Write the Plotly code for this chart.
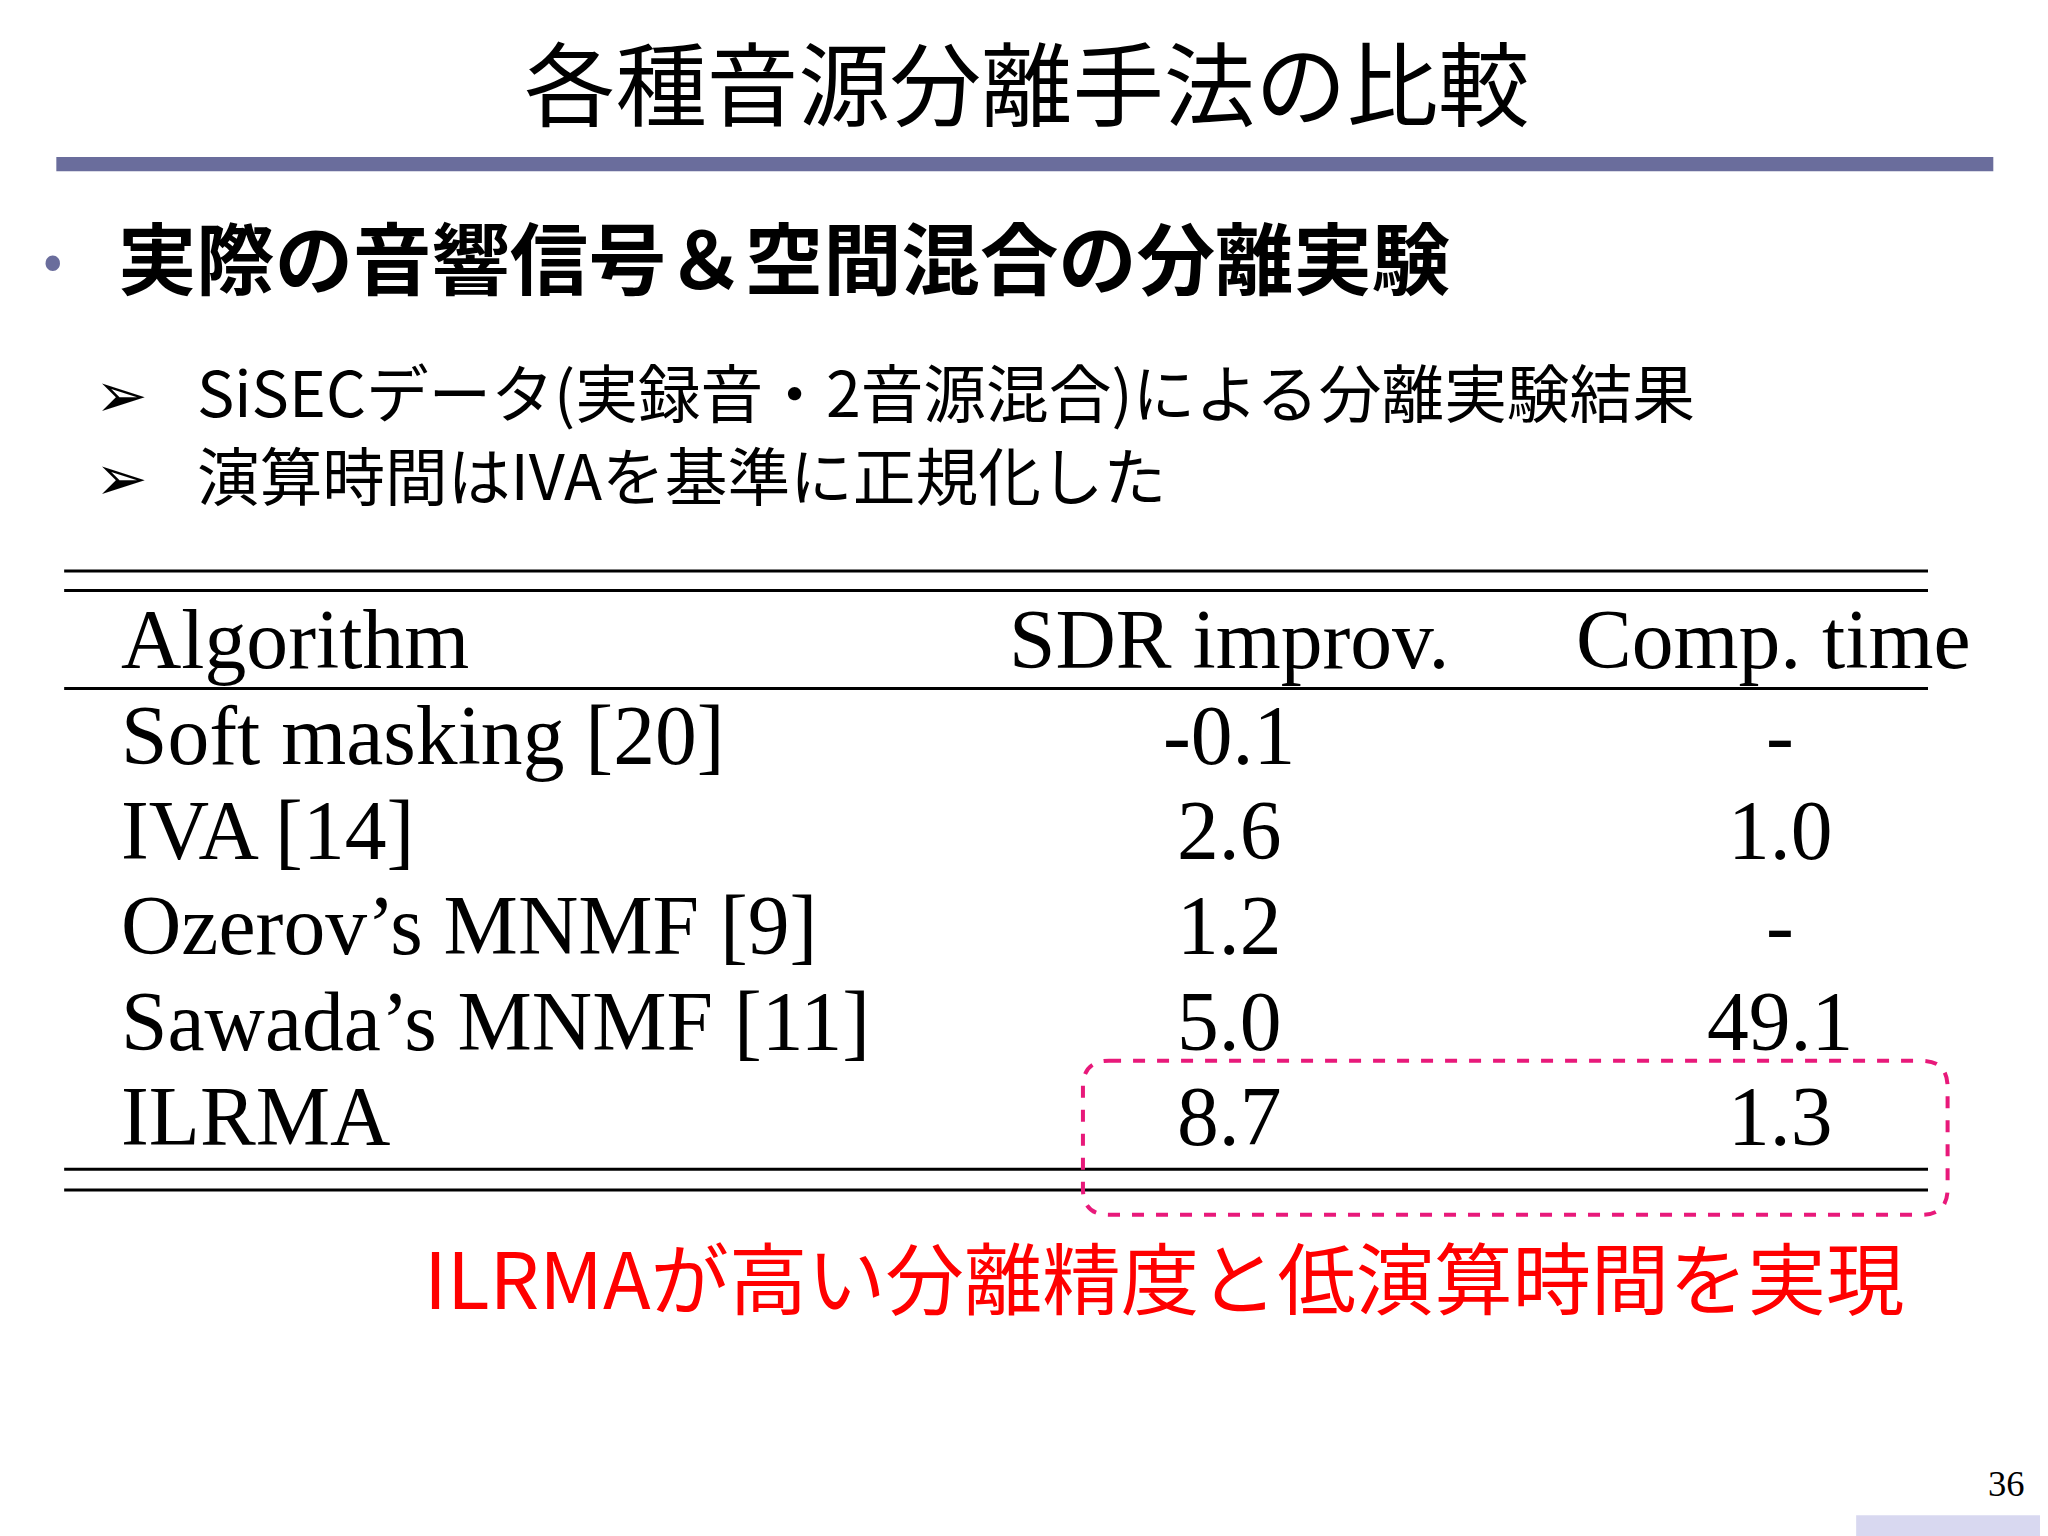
import plotly.graph_objects as go

# Data
title = "各種音源分離手法の比較"
bullet = "実際の音響信号＆空間混合の分離実験"
subs = ["SiSECデータ(実録音・2音源混合)による分離実験結果", "演算時間はIVAを基準に正規化した"]
headers = ["Algorithm", "SDR improv.", "Comp. time"]
algorithms = ["Soft masking [20]", "IVA [14]", "Ozerov’s MNMF [9]", "Sawada’s MNMF [11]", "ILRMA"]
sdr = ["-0.1", "2.6", "1.2", "5.0", "8.7"]
comp_time = ["-", "1.0", "-", "49.1", "1.3"]
note = "ILRMAが高い分離精度と低演算時間を実現"
page = "36"

W, H = 1568, 1176
k = 2048 / W  # font scale
jp = "Noto Sans CJK JP"
serif = "Liberation Serif"

fig = go.Figure()
shapes = []
ann = []

def text(x, y, s, size, font=jp, color="black", anchor="left"):
    ann.append(dict(x=x, y=y, text=s, showarrow=False, xanchor=anchor, yanchor="middle",
                    font=dict(family=font, size=size * k, color=color)))

def hline(y, x0=48, x1=1475, w=3):
    shapes.append(dict(type="line", x0=x0, x1=x1, y0=y, y1=y, line=dict(color="black", width=w)))

text(785, 60, title, 70, anchor="center")
shapes.append(dict(type="rect", x0=42, x1=1525, y0=120, y1=131, fillcolor="#6a6d9c", line_width=0))
text(30, 195, "•", 44, color="#6a6d9c")
text(88, 195, "<b>" + bullet + "</b>", 60)
for i, s in enumerate(subs):
    y = 298 + i * 64
    text(70, y, "➢", 48)
    text(148, y, s, 48)

for y in (437, 452, 527, 895, 911):
    hline(y)
text(90, 490, headers[0], 64, font=serif)
text(940, 490, headers[1], 64, font=serif, anchor="center")
text(1357, 490, headers[2], 64, font=serif, anchor="center")
for i, (a, s, c) in enumerate(zip(algorithms, sdr, comp_time)):
    y = 563 + i * 73
    text(90, y, a, 64, font=serif)
    text(940, y, s, 64, font=serif, anchor="center")
    text(1362, y, c, 64, font=serif, anchor="center")

shapes.append(dict(type="path",
                   path="M 848 812 L 1470 812 Q 1490 812 1490 832 L 1490 910 Q 1490 930 1470 930 "
                        "L 848 930 Q 828 930 828 910 L 828 832 Q 828 812 848 812 Z",
                   line=dict(color="#e8197a", width=4, dash="dash")))
text(890, 976, note, 60, color="#ff0000", anchor="center")
text(1535, 1136, page, 28, font=serif, anchor="center")
shapes.append(dict(type="rect", x0=1420, x1=W + 10, y0=1160, y1=H + 10, fillcolor="#d8d8f0", line_width=0))

fig.update_layout(
    width=2048, height=1536, margin=dict(l=0, r=0, t=0, b=0),
    plot_bgcolor="white", paper_bgcolor="white",
    xaxis=dict(range=[5, W + 5], visible=False),
    yaxis=dict(range=[H + 6, 6], visible=False),
    shapes=shapes, annotations=ann, showlegend=False,
)
fig.write_html("out.html")
